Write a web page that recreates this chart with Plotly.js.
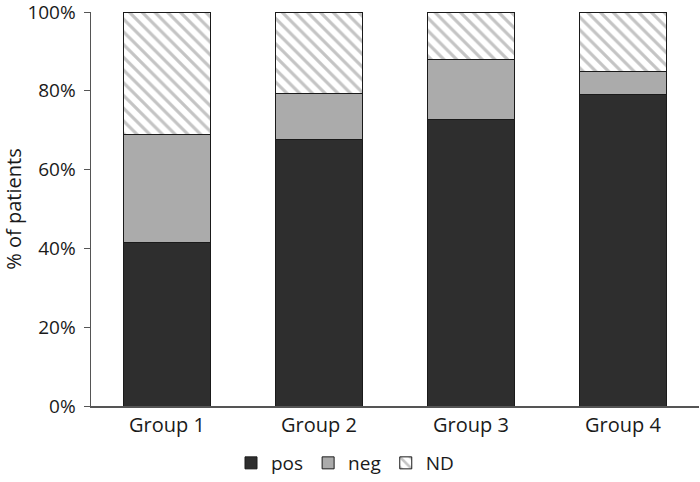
<!DOCTYPE html>
<html>
<head>
<meta charset="utf-8">
<script src="https://cdn.plot.ly/plotly-3.0.1.min.js"></script>
<style>
  html, body { margin: 0; padding: 0; background: #fff; }
  #plot { width: 700px; height: 482px; }
</style>
</head>
<body>
<div id="plot"></div>
<script>
// % of patients
var groups = ["Group 1", "Group 2", "Group 3", "Group 4"];
var pos = [41.4, 67.6, 72.6, 79.0];
var neg = [27.5, 11.8, 15.4, 5.8];
var nd = [31.1, 20.6, 12.0, 15.2];
var yTicks = [0, 20, 40, 60, 80, 100];

var edge = { color: "#1a1a1a", width: 1 };

var tracePos = {
  x: groups,
  y: pos,
  name: "pos",
  type: "bar",
  marker: { color: "#2e2e2e", line: edge }
};

var traceNeg = {
  x: groups,
  y: neg,
  name: "neg",
  type: "bar",
  marker: { color: "#ababab", line: edge }
};

var traceND = {
  x: groups,
  y: nd,
  name: "ND",
  type: "bar",
  marker: {
    color: "#ffffff",
    line: edge,
    pattern: { shape: "\\", fgcolor: "#c4c4c4", bgcolor: "#ffffff", size: 9, solidity: 0.35 }
  }
};

var data = [tracePos, traceNeg, traceND];

var layout = {
  width: 700,
  height: 482,
  barmode: "stack",
  bargap: 0.43,
  margin: { l: 91, r: 1, t: 12, b: 76 },
  paper_bgcolor: "#fff",
  plot_bgcolor: "#fff",
  font: { family: "Open Sans, sans-serif", size: 20, color: "#1a1a1a" },
  xaxis: {
    showline: true,
    linecolor: "#555",
    linewidth: 1.5,
    ticks: "",
    tickfont: { size: 20 },
    fixedrange: true
  },
  yaxis: {
    range: [0, 100],
    tickmode: "array",
    tickvals: yTicks,
    ticktext: yTicks.map(function (v) { return v + "%"; }),
    ticklabeloverflow: "allow",
    showgrid: false,
    zeroline: false,
    showline: true,
    linecolor: "#555",
    linewidth: 1.5,
    ticks: "outside",
    ticklen: 6,
    tickcolor: "#555",
    ticklabelstandoff: 4,
    tickfont: { size: 19 },
    title: { text: "% of patients", font: { size: 20 }, standoff: 4 },
    fixedrange: true
  },
  showlegend: true,
  legend: {
    orientation: "h",
    xref: "container",
    yref: "container",
    x: 0.33,
    xanchor: "left",
    y: 0.0,
    yanchor: "bottom",
    traceorder: "normal",
    font: { size: 19 },
    itemwidth: 30
  }
};

Plotly.newPlot("plot", data, layout, { displayModeBar: false, staticPlot: true });
</script>
</body>
</html>
